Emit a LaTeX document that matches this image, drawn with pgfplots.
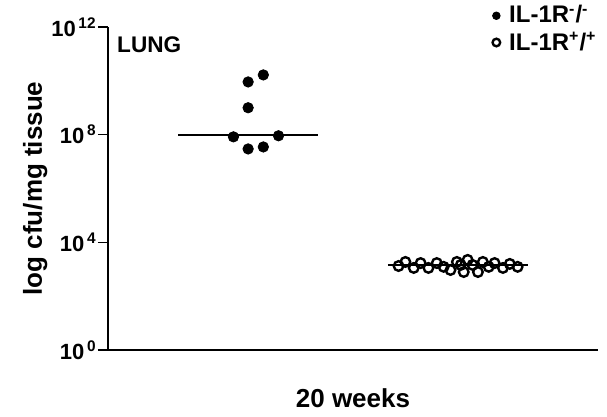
\documentclass[border=0pt]{standalone}
\usepackage{fontspec}
\setmainfont{Liberation Sans}
\usepackage{pgfplots}
\pgfplotsset{compat=1.18}

\begin{document}
\begin{tikzpicture}
\begin{axis}[
    scale only axis,
    width=245pt, height=161.5pt,
    xmin=0, xmax=10,
    ymode=log, log basis y=10,
    ymin=1, ymax=1e12,
    axis lines*=left,
    axis line style={line width=0.9pt},
    xtick=\empty,
    ytick={1,1e4,1e8,1e12},
    yticklabels={10\textsuperscript{\,0},10\textsuperscript{\,4},10\textsuperscript{\,8},10\textsuperscript{\,12}},
    minor ytick={},
    tick style={line width=0.8pt, black},
    tick align=outside,
    major tick length=5pt,
    yticklabel style={font=\fontsize{11}{12}\selectfont\bfseries, inner xsep=0.5pt},
    ylabel={log cfu/mg tissue},
    ylabel style={font=\fontsize{13}{15}\selectfont\bfseries, yshift=-2pt},
    xlabel={20 weeks},
    xlabel style={font=\fontsize{13}{15}\selectfont\bfseries, yshift=-11pt},
    legend style={draw=none, fill=none, at={(rel axis cs:1.006,1.08)}, anchor=north east,
        font=\fontsize{12}{13}\selectfont\bfseries, row sep=-1pt,
        legend cell align=left, inner sep=0pt,
        /tikz/every odd column/.append style={column sep=2.5pt}},
    legend image post style={mark size=1.9pt},
    clip=false,
]
\addplot[only marks, mark=*, mark size=2.6pt, black] coordinates {
    (2.86,9.1e9) (3.17,1.66e10) (2.86,1.0e9) (2.56,8.3e7) (3.48,9.1e7) (2.86,2.95e7) (3.17,3.5e7)
};
\addlegendentry{IL-1R\textsuperscript{-}/\textsuperscript{-}}
\addplot[only marks, mark=o, mark size=2.4pt, line width=1.2pt, black,
    mark options={fill=white}] coordinates {
    (5.93,1320) (6.07,1870) (6.24,1120) (6.38,1700) (6.54,1120) (6.71,1700)
    (6.85,1230) (6.99,940) (7.12,1870) (7.20,1450) (7.26,790) (7.34,2230)
    (7.44,1450) (7.55,790) (7.65,1870) (7.77,1230) (7.89,1700) (8.06,1120)
    (8.20,1580) (8.36,1230)
};
\addlegendentry{IL-1R\textsuperscript{+}/\textsuperscript{+}}
\addplot[black, line width=1pt, forget plot] coordinates {(1.43,1e8) (4.29,1e8)};
\addplot[black, line width=1pt, forget plot] coordinates {(5.71,1450) (8.57,1450)};
\node[anchor=west, font=\fontsize{11.3}{12}\selectfont\bfseries, inner sep=0pt]
    at (rel axis cs:0.018,0.944) {LUNG};
\coordinate (bbsw) at (rel axis cs:-0.2204,-0.2074);
\coordinate (bbne) at (rel axis cs:1.0184,1.0836);
\end{axis}
\pgfresetboundingbox
\path[use as bounding box] (bbsw) rectangle (bbne);
\end{tikzpicture}
\end{document}
